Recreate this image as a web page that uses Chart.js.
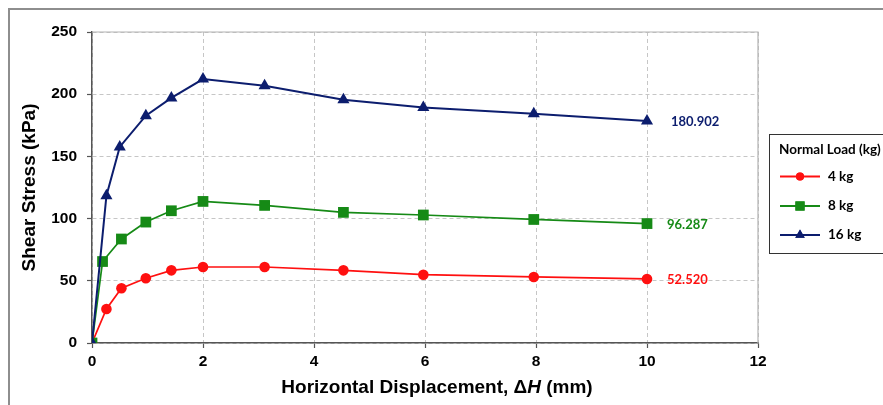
<!DOCTYPE html>
<html>
<head>
<meta charset="utf-8">
<script src="https://cdn.jsdelivr.net/npm/chart.js@4"></script>
<style>
  html, body { margin: 0; padding: 0; background: #fff; }
  #c { display: block; }
</style>
</head>
<body>
<canvas id="c" width="883" height="405"></canvas>
<script>
// ---- data ----
const seriesNames = ['4 kg', '8 kg', '16 kg'];
const xs4  = [0, 0.26, 0.53, 0.97, 1.43, 2.0, 3.11, 4.53, 5.97, 7.96, 10];
const load4  = [0, 27.3, 44.0, 52.0, 58.4, 61.1, 61.1, 58.4, 54.9, 53.1, 51.5];
const xs8  = [0, 0.19, 0.53, 0.97, 1.43, 2.0, 3.11, 4.53, 5.97, 7.96, 10];
const load8  = [0, 65.5, 83.6, 97.2, 106.3, 113.8, 110.6, 105.0, 102.9, 99.3, 96.0];
const xs16 = [0, 0.26, 0.50, 0.97, 1.43, 2.0, 3.11, 4.53, 5.97, 7.96, 10];
const load16 = [0, 118.4, 157.6, 182.7, 197.0, 212.2, 206.8, 195.6, 189.4, 184.3, 178.5];
const endLabels = ['52.520', '96.287', '180.902'];
const xTicks = [0, 2, 4, 6, 8, 10, 12];
const yTicks = [0, 50, 100, 150, 200, 250];
const legendTitle = 'Normal Load (kg)';
const xTitleParts = ['Horizontal Displacement, \u0394', 'H', ' (mm)'];
const yTitle = 'Shear Stress (kPa)';

const colors = ['#ff1010', '#168a16', '#0c1d6e'];
const styles = ['circle', 'rect', 'triangle'];
const radii = [5.3, 7.6, 7];

function pts(xs, ys) { return xs.map((x, i) => ({ x: x, y: ys[i] })); }

const datasets = [
  { label: seriesNames[0], data: pts(xs4, load4), order: 3 },
  { label: seriesNames[1], data: pts(xs8, load8), order: 2 },
  { label: seriesNames[2], data: pts(xs16, load16), order: 1 }
].map((d, i) => Object.assign(d, {
  showLine: true,
  borderColor: colors[i],
  backgroundColor: colors[i],
  pointBackgroundColor: colors[i],
  pointBorderColor: colors[i],
  pointStyle: styles[i],
  pointRadius: radii[i],
  pointHoverRadius: radii[i],
  borderWidth: i === 2 ? 2 : 1.7,
  pointBorderWidth: 0,
  tension: 0,
  endLabel: endLabels[i]
}));

const FONT = "'Liberation Sans', Arial, sans-serif";
const LFONT = "Lato, 'Open Sans', sans-serif";

const framePlugin = {
  id: 'frame',
  beforeDraw(chart) {
    const ctx = chart.ctx;
    ctx.save();
    ctx.fillStyle = '#fff';
    ctx.fillRect(0, 0, chart.width, chart.height);
    ctx.strokeStyle = '#8e8e8e';
    ctx.lineWidth = 2;
    ctx.beginPath();
    ctx.moveTo(9, chart.height);
    ctx.lineTo(9, 9);
    ctx.lineTo(chart.width, 9);
    ctx.stroke();
    ctx.restore();
  },
  beforeDatasetsDraw(chart) {
    const a = chart.chartArea, ctx = chart.ctx;
    ctx.save();
    ctx.strokeStyle = '#b4b4b4';
    ctx.lineWidth = 1.2;
    ctx.beginPath();
    ctx.moveTo(a.left, a.top);
    ctx.lineTo(a.right, a.top);
    ctx.lineTo(a.right, a.bottom);
    ctx.stroke();
    ctx.restore();
  }
};

const endLabelPlugin = {
  id: 'endLabels',
  afterDatasetsDraw(chart) {
    const ctx = chart.ctx;
    ctx.save();
    ctx.font = 'bold 13px ' + LFONT;
    ctx.textBaseline = 'middle';
    ctx.textAlign = 'left';
    chart.data.datasets.forEach((ds, i) => {
      const meta = chart.getDatasetMeta(i);
      const p = meta.data[meta.data.length - 1];
      ctx.fillStyle = ds.borderColor;
      ctx.fillText(ds.endLabel, p.x + (i === 2 ? 24 : 20), p.y + 1);
    });
    ctx.restore();
  }
};

const xTitlePlugin = {
  id: 'xTitle',
  afterDraw(chart) {
    const ctx = chart.ctx;
    ctx.save();
    ctx.fillStyle = '#000';
    ctx.textBaseline = 'middle';
    ctx.textAlign = 'left';
    const fonts = ['bold 19px ' + FONT, 'italic bold 19px ' + FONT, 'bold 19px ' + FONT];
    let total = 0;
    const widths = xTitleParts.map((t, i) => { ctx.font = fonts[i]; const w = ctx.measureText(t).width; total += w; return w; });
    let x = 437 - total / 2;
    const y = 388;
    xTitleParts.forEach((t, i) => { ctx.font = fonts[i]; ctx.fillText(t, x, y); x += widths[i]; });
    ctx.restore();
  }
};

const legendPlugin = {
  id: 'boxLegend',
  afterDraw(chart) {
    const ctx = chart.ctx;
    const left = 769.5, top = 134.5, bottom = 253.5;
    ctx.save();
    ctx.strokeStyle = '#333';
    ctx.lineWidth = 1;
    ctx.strokeRect(left, top, chart.width + 10 - left, bottom - top);
    ctx.fillStyle = '#000';
    ctx.font = 'bold 13.5px ' + LFONT;
    ctx.textBaseline = 'middle';
    ctx.textAlign = 'left';
    ctx.fillText(legendTitle, 779, 150);
    const rows = [176.5, 206, 235];
    const lr = [4, 6.5, 5.5];
    chart.data.datasets.forEach((ds, i) => {
      const y = rows[i];
      ctx.strokeStyle = ds.borderColor;
      ctx.lineWidth = 2;
      ctx.beginPath();
      ctx.moveTo(780, y);
      ctx.lineTo(820, y);
      ctx.stroke();
      ctx.fillStyle = ds.borderColor;
      Chart.helpers.drawPoint(ctx, { pointStyle: ds.pointStyle, radius: lr[i], rotation: 0, borderWidth: 0 }, 800, y);
      ctx.fill();
      ctx.fillStyle = '#000';
      ctx.font = 'bold 13.5px ' + LFONT;
      ctx.fillText(ds.label, 828, y);
    });
    ctx.restore();
  }
};

new Chart(document.getElementById('c'), {
  type: 'scatter',
  data: { datasets: datasets },
  plugins: [framePlugin, endLabelPlugin, xTitlePlugin, legendPlugin],
  options: {
    responsive: false,
    devicePixelRatio: 1,
    animation: false,
    layout: { padding: { left: 0, right: 125, top: 32, bottom: 0 } },
    plugins: {
      legend: { display: false },
      tooltip: { enabled: false },
      title: { display: false }
    },
    scales: {
      x: {
        type: 'linear',
        min: xTicks[0],
        max: xTicks[xTicks.length - 1],
        afterBuildTicks: s => { s.ticks = xTicks.map(v => ({ value: v })); },
        afterFit: s => { s.height = 62; },
        ticks: { color: '#000', font: { family: FONT, size: 15.5, weight: 'bold' }, padding: 4, maxRotation: 0 },
        grid: { color: '#c6c6c6', tickColor: '#555', tickLength: 5, tickBorderDash: [], tickWidth: 1.2 },
        border: { display: true, color: '#555', width: 1.5, dash: [4, 3] },
        title: { display: false }
      },
      y: {
        type: 'linear',
        min: yTicks[0],
        max: yTicks[yTicks.length - 1],
        afterBuildTicks: s => { s.ticks = yTicks.map(v => ({ value: v })); },
        afterFit: s => { s.width = 92; },
        ticks: { color: '#000', font: { family: FONT, size: 15.5, weight: 'bold' }, padding: 10 },
        grid: { color: '#c6c6c6', tickColor: '#555', tickLength: 5, tickBorderDash: [], tickWidth: 1.2 },
        border: { display: true, color: '#555', width: 1.5, dash: [4, 3] },
        title: { display: true, text: yTitle, color: '#000', font: { family: FONT, size: 19, weight: 'bold' }, padding: { top: 18, bottom: 0 } }
      }
    }
  }
});
</script>
</body>
</html>
